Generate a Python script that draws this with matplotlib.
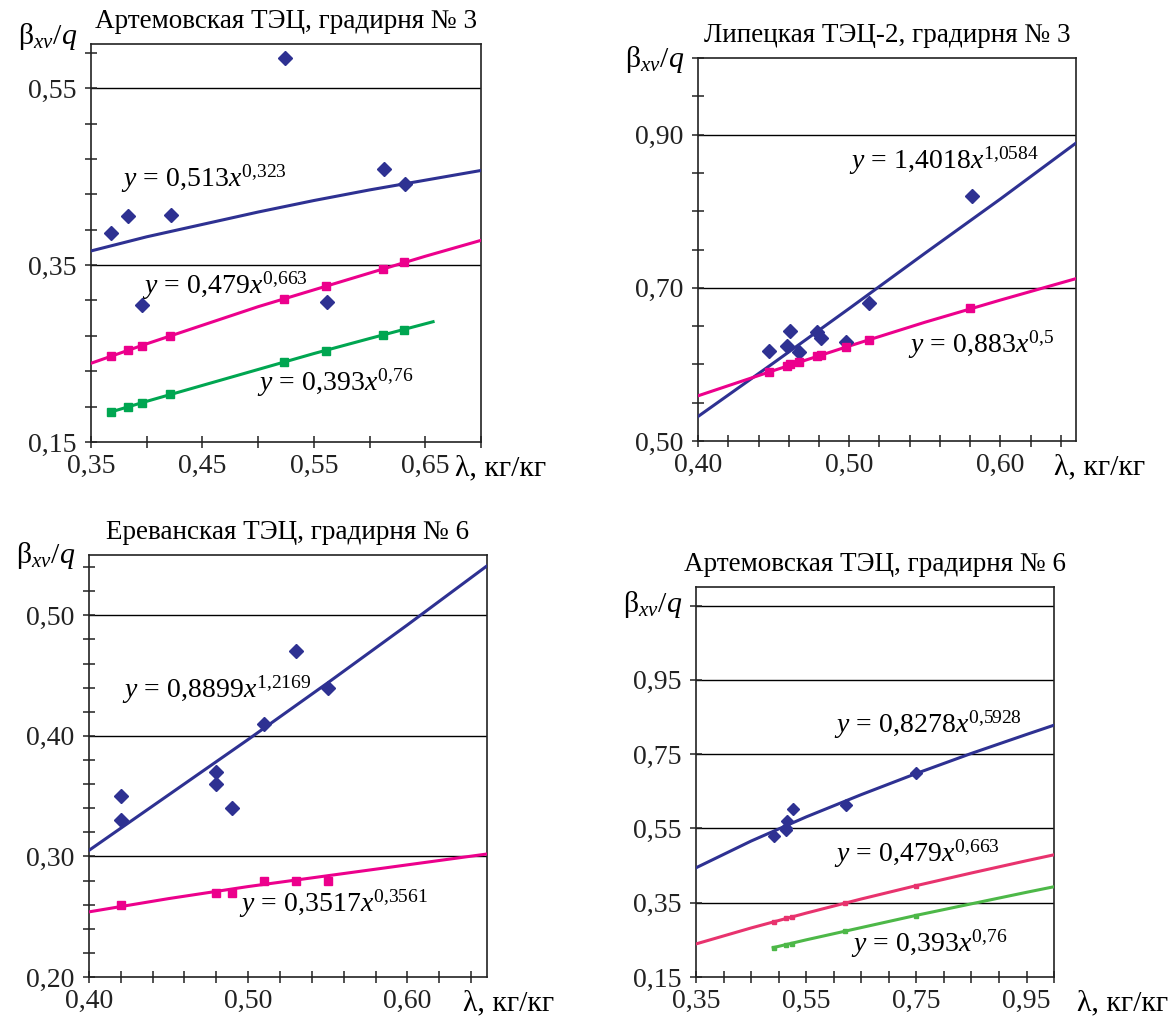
import matplotlib
matplotlib.use("Agg")
import matplotlib.pyplot as plt

plt.rcParams['font.family'] = ['Liberation Serif', 'DejaVu Serif']
plt.rcParams['mathtext.fontset'] = 'custom'
plt.rcParams['mathtext.rm'] = 'Liberation Serif'
plt.rcParams['mathtext.it'] = 'Liberation Serif:italic'
plt.rcParams['mathtext.bf'] = 'Liberation Serif:bold'

BLUE = '#2e3192'
PINK = '#ec008c'
GREEN = '#00a651'
PINK4 = '#e8336e'
GREEN4 = '#4db848'

YLABEL = r'$\mathrm{\beta}_{xv}/q$'
XLABEL = 'λ, кг/кг'

# ---- Panel 1: Артемовская ТЭЦ, градирня № 3
p1_title = 'Артемовская ТЭЦ, градирня № 3'
p1_xticks = [0.35, 0.40, 0.45, 0.50, 0.55, 0.60, 0.65, 0.70]
p1_xlabels = ['0,35', '', '0,45', '', '0,55', '', '0,65', '']
p1_yticks = [0.15, 0.19, 0.23, 0.27, 0.31, 0.35, 0.39, 0.43, 0.47, 0.51, 0.55, 0.59]
p1_ylabels = ['0,15', '', '', '', '', '0,35', '', '', '', '', '0,55', '']
p1_grid = [0.35, 0.55]
p1_meas_x = [0.368, 0.383, 0.396, 0.422, 0.524, 0.562, 0.613, 0.632]
p1_meas_y = [0.386, 0.405, 0.305, 0.407, 0.584, 0.308, 0.459, 0.442]
p1_sq_x = [0.368, 0.383, 0.396, 0.421, 0.523, 0.561, 0.612, 0.631]
p1_pink_y = [0.247, 0.254, 0.259, 0.270, 0.312, 0.326, 0.346, 0.353]
p1_green_y = [0.184, 0.190, 0.194, 0.204, 0.240, 0.253, 0.271, 0.277]
p1_line_x = [0.35, 0.40, 0.45, 0.50, 0.55, 0.60, 0.65, 0.70]
p1_blue_line = [0.366, 0.382, 0.396, 0.410, 0.423, 0.435, 0.446, 0.457]
p1_pink_line = [0.239, 0.261, 0.282, 0.303, 0.322, 0.341, 0.360, 0.378]
p1_green_line_x = [0.368, 0.40, 0.45, 0.50, 0.55, 0.60, 0.657]
p1_green_line = [0.184, 0.196, 0.214, 0.232, 0.250, 0.267, 0.286]
p1_eqs = [r'$y\,=\,0{,}513x^{0{,}323}$', r'$y\,=\,0{,}479x^{0{,}663}$', r'$y\,=\,0{,}393x^{0{,}76}$']

# ---- Panel 2: Липецкая ТЭЦ-2, градирня № 3
p2_title = 'Липецкая ТЭЦ-2, градирня № 3'
p2_xticks = [0.40, 0.42, 0.44, 0.46, 0.48, 0.50, 0.52, 0.54, 0.56, 0.58, 0.60, 0.62, 0.64]
p2_xlabels = ['0,40', '', '', '', '', '0,50', '', '', '', '', '0,60', '', '']
p2_yticks = [0.50, 0.55, 0.60, 0.65, 0.70, 0.75, 0.80, 0.85, 0.90, 0.95, 1.00]
p2_ylabels = ['0,50', '', '', '', '0,70', '', '', '', '0,90', '', '']
p2_grid = [0.70, 0.90]
p2_meas_x = [0.447, 0.459, 0.461, 0.467, 0.479, 0.481, 0.498, 0.513, 0.581]
p2_meas_y = [0.618, 0.624, 0.643, 0.616, 0.642, 0.634, 0.629, 0.680, 0.820]
p2_sq_x = [0.447, 0.459, 0.461, 0.467, 0.479, 0.481, 0.498, 0.513, 0.580]
p2_pink_y = [0.590, 0.598, 0.600, 0.603, 0.611, 0.612, 0.623, 0.632, 0.673]
p2_line_x = [0.40, 0.45, 0.50, 0.55, 0.60, 0.65]
p2_blue_line = [0.532, 0.602, 0.673, 0.745, 0.816, 0.889]
p2_pink_line = [0.559, 0.592, 0.624, 0.655, 0.684, 0.712]
p2_eqs = [r'$y\,=\,1{,}4018x^{1{,}0584}$', r'$y\,=\,0{,}883x^{0{,}5}$']

# ---- Panel 3: Ереванская ТЭЦ, градирня № 6
p3_title = 'Ереванская ТЭЦ, градирня № 6'
p3_xticks = [0.40, 0.42, 0.44, 0.46, 0.48, 0.50, 0.52, 0.54, 0.56, 0.58, 0.60, 0.62, 0.64]
p3_xlabels = ['0,40', '', '', '', '', '0,50', '', '', '', '', '0,60', '', '']
p3_yticks = [0.20, 0.22, 0.24, 0.26, 0.28, 0.30, 0.32, 0.34, 0.36, 0.38, 0.40,
             0.42, 0.44, 0.46, 0.48, 0.50, 0.52, 0.54]
p3_ylabels = ['0,20', '', '', '', '', '0,30', '', '', '', '', '0,40',
              '', '', '', '', '0,50', '', '']
p3_grid = [0.30, 0.40, 0.50]
p3_meas_x = [0.42, 0.42, 0.48, 0.48, 0.49, 0.51, 0.53, 0.55]
p3_meas_y = [0.35, 0.33, 0.37, 0.36, 0.34, 0.41, 0.47, 0.44]
p3_sq_x = [0.42, 0.48, 0.49, 0.51, 0.53, 0.55]
p3_pink_y = [0.26, 0.27, 0.27, 0.28, 0.28, 0.28]
p3_line_x = [0.40, 0.45, 0.50, 0.55, 0.60, 0.65]
p3_blue_line = [0.305, 0.351, 0.397, 0.444, 0.492, 0.541]
p3_pink_line = [0.254, 0.265, 0.275, 0.284, 0.293, 0.302]
p3_eqs = [r'$y\,=\,0{,}8899x^{1{,}2169}$', r'$y\,=\,0{,}3517x^{0{,}3561}$']

# ---- Panel 4: Артемовская ТЭЦ, градирня № 6
p4_title = 'Артемовская ТЭЦ, градирня № 6'
p4_xticks = [0.35, 0.40, 0.45, 0.50, 0.55, 0.60, 0.65, 0.70, 0.75,
             0.80, 0.85, 0.90, 0.95, 1.00]
p4_xlabels = ['0,35', '', '', '', '0,55', '', '', '', '0,75', '', '', '', '0,95', '']
p4_yticks = [0.15, 0.35, 0.55, 0.75, 0.95, 1.15]
p4_ylabels = ['0,15', '0,35', '0,55', '0,75', '0,95', '']
p4_grid = [0.35, 0.55, 0.75, 0.95, 1.15]
p4_meas_x = [0.491, 0.5135, 0.514, 0.515, 0.526, 0.622, 0.749]
p4_meas_y = [0.530, 0.547, 0.552, 0.570, 0.603, 0.613, 0.700]
p4_sq_x = [0.491, 0.5135, 0.524, 0.620, 0.749]
p4_pink_y = [0.299, 0.308, 0.312, 0.349, 0.395]
p4_green_y = [0.229, 0.237, 0.240, 0.273, 0.315]
p4_line_x = [0.35, 0.45, 0.55, 0.65, 0.75, 0.85, 0.95, 1.00]
p4_blue_line = [0.444, 0.516, 0.581, 0.641, 0.698, 0.752, 0.803, 0.828]
p4_pink_line = [0.239, 0.282, 0.322, 0.360, 0.396, 0.430, 0.463, 0.479]
p4_green_line_x = [0.49, 0.55, 0.65, 0.75, 0.85, 0.95, 1.00]
p4_green_line = [0.229, 0.250, 0.283, 0.316, 0.347, 0.378, 0.393]
p4_eqs = [r'$y\,=\,0{,}8278x^{0{,}5928}$', r'$y\,=\,0{,}479x^{0{,}663}$', r'$y\,=\,0{,}393x^{0{,}76}$']

FS = 20       # tick labels, equations
FS_T = 19.5   # titles
FS_L = 21.5   # axis labels
PX = 0.72     # points per pixel at 100 dpi


def setup(ax, xticks, xlabels, yticks, ylabels, grid, title, ylab_y, xlab_dx):
    ax.set_xticks(xticks)
    ax.set_xticklabels(xlabels)
    ax.set_yticks(yticks)
    ax.set_yticklabels(ylabels)
    for g in grid:
        ax.axhline(g, color='black', lw=1.0, zorder=1)
    ax.tick_params(direction='inout', length=8.5, width=1.1, labelsize=FS, colors='#222222')
    ax.tick_params(axis='y', pad=6.5)
    ax.tick_params(axis='x', pad=4)
    for s in ax.spines.values():
        s.set_linewidth(1.2)
        s.set_color('#222222')
    ax.annotate(title, xy=(0.5, 1.0), xycoords='axes fraction', xytext=(0, 16 * PX),
                textcoords='offset points', ha='center', va='baseline', fontsize=FS_T)
    ax.annotate(YLABEL, xy=(0.0, ylab_y), xycoords='axes fraction', xytext=(-14 * PX, 0),
                textcoords='offset points', ha='right', va='center', fontsize=FS_L)
    ax.annotate(XLABEL, xy=(1.0, 0.0), xycoords='axes fraction', xytext=(xlab_dx * PX, -33 * PX),
                textcoords='offset points', ha='left', va='baseline', fontsize=FS_L)


fig = plt.figure(figsize=(11.72, 10.18), dpi=100)

# panel 1
ax1 = fig.add_axes([0.0776, 0.5658, 0.3328, 0.3910])
setup(ax1, p1_xticks, p1_xlabels, p1_yticks, p1_ylabels, p1_grid, p1_title, 1.0176, -26)
ax1.set_xlim(0.35, 0.70)
ax1.set_ylim(0.15, 0.60)
ax1.plot(p1_line_x, p1_blue_line, color=BLUE, lw=2.2, zorder=3)
ax1.plot(p1_line_x, p1_pink_line, color=PINK, lw=2.2, zorder=3)
ax1.plot(p1_green_line_x, p1_green_line, color=GREEN, lw=2.2, zorder=3)
ax1.plot(p1_meas_x, p1_meas_y, 'D', color=BLUE, ms=7, zorder=4)
ax1.plot(p1_sq_x, p1_pink_y, 's', color=PINK, ms=5.5, zorder=4)
ax1.plot(p1_sq_x, p1_green_y, 's', color=GREEN, ms=5.5, zorder=4)
ax1.text(0.377, 0.439, p1_eqs[0], fontsize=FS, va='baseline')
ax1.text(0.396, 0.318, p1_eqs[1], fontsize=FS, va='baseline')
ax1.text(0.499, 0.2085, p1_eqs[2], fontsize=FS, va='baseline')

# panel 2
ax2 = fig.add_axes([0.5956, 0.5668, 0.3225, 0.3762])
setup(ax2, p2_xticks, p2_xlabels, p2_yticks, p2_ylabels, p2_grid, p2_title, 0.995, -22)
ax2.set_xlim(0.40, 0.65)
ax2.set_ylim(0.50, 1.00)
ax2.plot(p2_line_x, p2_blue_line, color=BLUE, lw=2.2, zorder=3)
ax2.plot(p2_line_x, p2_pink_line, color=PINK, lw=2.2, zorder=3)
ax2.plot(p2_meas_x, p2_meas_y, 'D', color=BLUE, ms=7, zorder=4)
ax2.plot(p2_sq_x, p2_pink_y, 's', color=PINK, ms=5.5, zorder=4)
ax2.text(0.500, 0.856, p2_eqs[0], fontsize=FS, va='baseline')
ax2.text(0.5387, 0.616, p2_eqs[1], fontsize=FS, va='baseline')

# panel 3
ax3 = fig.add_axes([0.0759, 0.0403, 0.3396, 0.4145])
setup(ax3, p3_xticks, p3_xlabels, p3_yticks, p3_ylabels, p3_grid, p3_title, 1.0, -24)
ax3.set_xlim(0.40, 0.65)
ax3.set_ylim(0.20, 0.55)
ax3.plot(p3_line_x, p3_blue_line, color=BLUE, lw=2.2, zorder=3)
ax3.plot(p3_line_x, p3_pink_line, color=PINK, lw=2.2, zorder=3)
ax3.plot(p3_meas_x, p3_meas_y, 'D', color=BLUE, ms=7, zorder=4)
ax3.plot(p3_sq_x, p3_pink_y, 's', color=PINK, ms=5.5, zorder=4)
ax3.text(0.4206, 0.432, p3_eqs[0], fontsize=FS, va='baseline')
ax3.text(0.4942, 0.254, p3_eqs[1], fontsize=FS, va='baseline')

# panel 4
ax4 = fig.add_axes([0.5939, 0.0403, 0.3055, 0.3831])
setup(ax4, p4_xticks, p4_xlabels, p4_yticks, p4_ylabels, p4_grid, p4_title, 0.954, 23)
ax4.set_xlim(0.35, 1.00)
ax4.set_ylim(0.15, 1.20)
ax4.plot(p4_line_x, p4_blue_line, color=BLUE, lw=2.2, zorder=3)
ax4.plot(p4_line_x, p4_pink_line, color=PINK4, lw=2.2, zorder=3)
ax4.plot(p4_green_line_x, p4_green_line, color=GREEN4, lw=2.2, zorder=3)
ax4.plot(p4_meas_x, p4_meas_y, 'D', color=BLUE, ms=6, zorder=4)
ax4.plot(p4_sq_x, p4_pink_y, 's', color=PINK4, ms=3.5, zorder=4)
ax4.plot(p4_sq_x, p4_green_y, 's', color=GREEN4, ms=3.5, zorder=4)
ax4.text(0.601, 0.808, p4_eqs[0], fontsize=FS, va='baseline')
ax4.text(0.601, 0.46, p4_eqs[1], fontsize=FS, va='baseline')
ax4.text(0.632, 0.217, p4_eqs[2], fontsize=FS, va='baseline')

fig.savefig('out.png', dpi=100)
